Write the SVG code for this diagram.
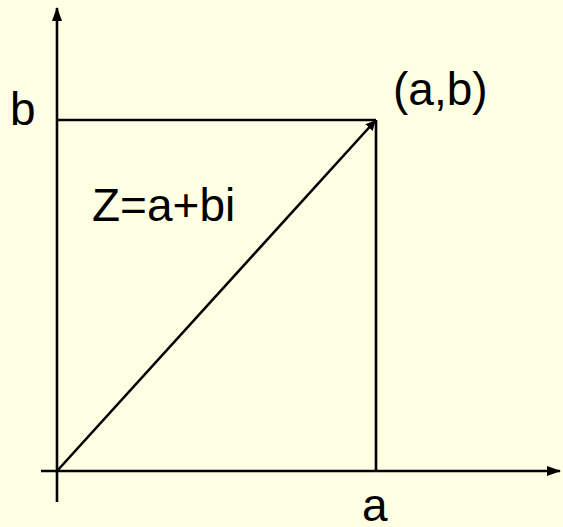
<svg xmlns="http://www.w3.org/2000/svg" width="563" height="527" viewBox="0 0 563 527">
<style>
.ln{stroke:#000;stroke-width:2.6;fill:none}
.t{font-family:"Liberation Sans",Arial,sans-serif;font-size:46px;fill:#000}
</style>
<defs>
<marker id="ah" markerWidth="10" markerHeight="10" refX="9" refY="5" orient="auto" markerUnits="userSpaceOnUse" viewBox="0 0 10 10">
<path d="M0,0 L10,5 L0,10 Z" fill="#000"/>
</marker>
<marker id="ax" markerWidth="14" markerHeight="10" refX="13" refY="5" orient="auto" markerUnits="userSpaceOnUse" viewBox="0 0 14 10">
<path d="M0,0 L14,5 L0,10 Z" fill="#000"/>
</marker>
</defs>
<rect width="563" height="527" fill="#FFFFE3"/>
<g id="connectors">
<line class="ln" x1="57" y1="502" x2="57" y2="8" marker-end="url(#ax)"/>
<line class="ln" x1="41" y1="471" x2="560" y2="471" marker-end="url(#ax)"/>
<line class="ln" x1="57" y1="120" x2="376" y2="120"/>
<line class="ln" x1="376" y1="120" x2="376" y2="471"/>
<line class="ln" x1="57" y1="471" x2="375" y2="121" marker-end="url(#ah)"/>
</g>
<g id="label-b"><text class="t" x="10" y="125">b</text></g>
<g id="label-ab"><text class="t" x="393" y="105">(a,b)</text></g>
<g id="label-z"><text class="t" x="92" y="221">Z=a+bi</text></g>
<g id="label-a"><text class="t" x="362" y="521">a</text></g>
</svg>
